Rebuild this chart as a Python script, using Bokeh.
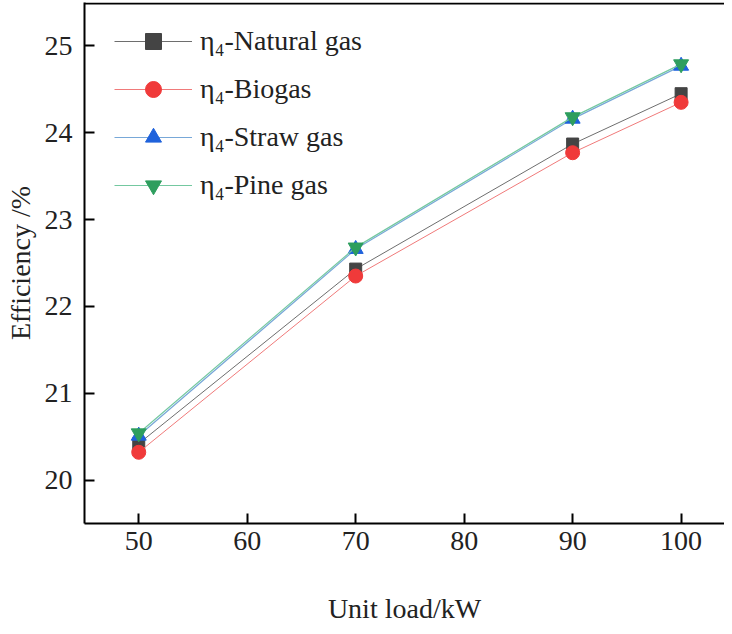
from bokeh.plotting import figure
from bokeh.models import Range1d, Legend, LegendItem, Span, FixedTicker
from bokeh.embed import file_html
from bokeh.resources import INLINE

# ---- data ----
unit_load = [50, 70, 90, 100]
natural_gas = [20.42, 22.43, 23.87, 24.45]
biogas = [20.32, 22.35, 23.77, 24.35]
straw_gas = [20.51, 22.66, 24.16, 24.77]
pine_gas = [20.54, 22.68, 24.18, 24.79]

series_names = ["η₄-Natural gas", "η₄-Biogas", "η₄-Straw gas", "η₄-Pine gas"]
x_ticks = [50, 60, 70, 80, 90, 100]
y_ticks = [20, 21, 22, 23, 24, 25]

FONT = "Liberation Serif"

p = figure(width=724, height=626, output_backend="svg", toolbar_location=None,
           x_range=Range1d(45, 104), y_range=Range1d(19.5, 25.5),
           min_border_left=84, min_border_right=0, min_border_top=2, min_border_bottom=101)
p.background_fill_color = "white"
p.border_fill_color = "white"
p.outline_line_color = None
p.grid.visible = False

for ax in (p.xaxis[0], p.yaxis[0]):
    ax.axis_line_width = 2
    ax.axis_line_color = "black"
    ax.major_tick_line_width = 2
    ax.major_tick_line_color = "black"
    ax.major_tick_in = 10
    ax.major_tick_out = 0
    ax.minor_tick_line_color = None
    ax.major_label_text_font = FONT
    ax.major_label_text_font_size = "28px"
    ax.major_label_text_color = "#222222"
    ax.axis_label_text_font = FONT
    ax.axis_label_text_font_size = "28px"
    ax.axis_label_text_font_style = "normal"
    ax.axis_label_text_color = "#222222"

p.xaxis.ticker = FixedTicker(ticks=x_ticks)
p.yaxis.ticker = FixedTicker(ticks=y_ticks)
p.xaxis.axis_label = "Unit load/kW"
p.yaxis.axis_label = "Efficiency /%"
p.xaxis.major_label_standoff = 8
p.yaxis.major_label_standoff = 12
p.xaxis.axis_label_standoff = 40
p.yaxis.axis_label_standoff = 6

# top frame line
p.add_layout(Span(location=25.488, dimension="width", line_color="black", line_width=2))

l1 = p.line(unit_load, natural_gas, line_color="#6e6e6e", line_width=1)
m1 = p.scatter(unit_load, natural_gas, marker="square", size=12, fill_color="#444444", line_color="#444444")
l2 = p.line(unit_load, biogas, line_color="#f07a7a", line_width=1)
m2 = p.scatter(unit_load, biogas, marker="circle", size=14, fill_color="#f03a3a", line_color="#f03a3a")
l3 = p.line(unit_load, straw_gas, line_color="#78a8d8", line_width=1.2)
m3 = p.scatter(unit_load, straw_gas, marker="triangle", size=15, fill_color="#1f62dc", line_color="#1f62dc")
l4 = p.line(unit_load, pine_gas, line_color="#74c8a0", line_width=1.2)
m4 = p.scatter(unit_load, pine_gas, marker="inverted_triangle", size=15, fill_color="#2e9e5e", line_color="#2e9e5e")

legend = Legend(items=[
    LegendItem(label=series_names[0], renderers=[l1, m1]),
    LegendItem(label=series_names[1], renderers=[l2, m2]),
    LegendItem(label=series_names[2], renderers=[l3, m3]),
    LegendItem(label=series_names[3], renderers=[l4, m4]),
], location=(30, 318))
legend.background_fill_alpha = 0
legend.border_line_color = None
legend.label_text_font = FONT
legend.label_text_font_size = "28px"
legend.label_text_color = "#222222"
legend.glyph_width = 78
legend.glyph_height = 40
legend.label_height = 40
legend.spacing = 8
legend.label_standoff = 8
legend.padding = 0
legend.margin = 0
p.add_layout(legend)

open("out.html", "w").write(file_html(p, INLINE))
